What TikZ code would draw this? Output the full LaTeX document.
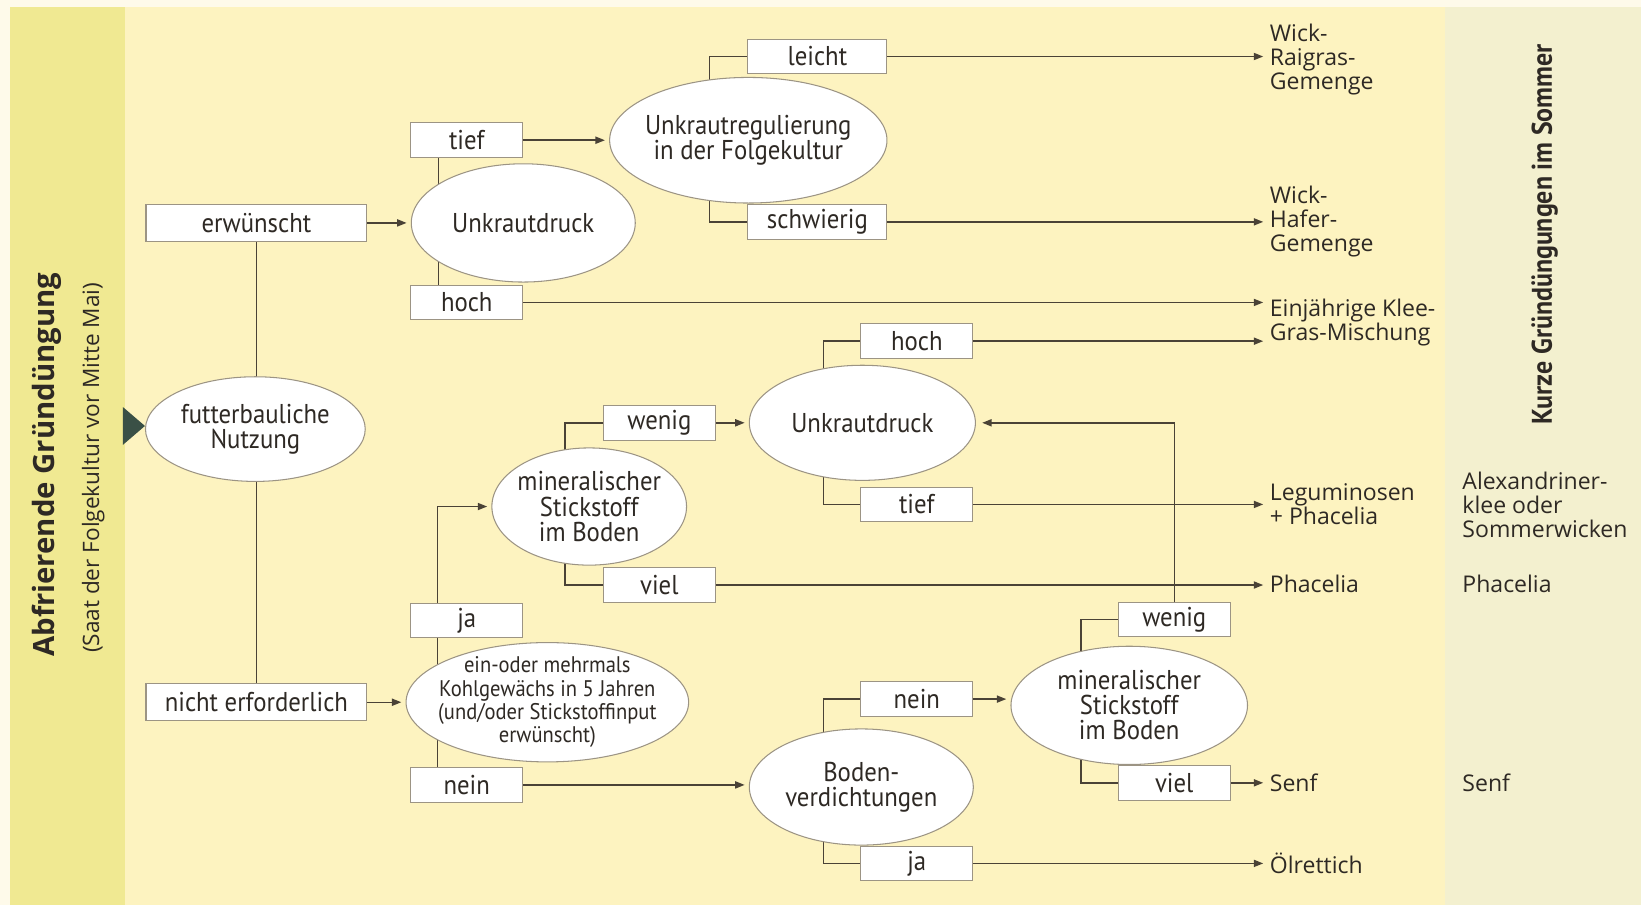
\documentclass[tikz,border=0pt]{standalone}
\usepackage{fontspec}
\setmainfont[FakeStretch=0.91]{PT Sans}
\newfontfamily\labfont{Open Sans}
\usetikzlibrary{shapes.geometric,arrows.meta,backgrounds}

\definecolor{ink}{HTML}{2E2924}
\definecolor{edge}{HTML}{4A4236}
\definecolor{rim}{HTML}{9C9484}
\definecolor{bgmain}{HTML}{FDF3C0}
\definecolor{bgleft}{HTML}{F0E992}
\definecolor{bgright}{HTML}{F3F0CF}
\definecolor{bgtop}{HTML}{FEFAEA}
\definecolor{pointer}{HTML}{3A5046}

\begin{document}
\begin{tikzpicture}[x=0.5pt,y=-0.5pt,
		font=\fontsize{13}{12}\selectfont, text=ink,
		box/.style={draw=rim,fill=white,line width=0.5pt,minimum width=53.5pt,minimum height=16.5pt,inner sep=0pt},
		widebox/.style={box,minimum width=105.5pt,minimum height=17.5pt},
		oval/.style={ellipse,draw=rim,fill=white,line width=0.5pt,inner sep=0pt,align=center},
		res/.style={anchor=west,align=left,inner xsep=3pt,inner ysep=0pt,font=\labfont\fontsize{11}{11.5}\selectfont},
		link/.style={draw=edge,line width=0.7pt},
		arr/.style={link,-{Triangle[length=4.5pt,width=3.4pt]}}]
	\useasboundingbox (0,0) rectangle (1568,865);
	
	% background
	\begin{scope}[on background layer]
		\fill[bgtop] (0,0) rectangle (1568,865);
		\fill[bgleft] (9.5,6.5) rectangle (119,865);
		\fill[bgmain] (119,6.5) rectangle (1381,865);
		\fill[bgright] (1381,6.5) rectangle (1568,865);
	\end{scope}
	\fill[pointer] (117.5,389) -- (138.5,407) -- (117.5,425) -- cycle;
	
	\node[rotate=90,font=\labfont\bfseries\fontsize{14}{14}\selectfont] (titel) at (45,444) {Abfrierende Gründüngung};
	\node[rotate=90,font=\labfont\fontsize{10.8}{10.8}\selectfont] (untertitel) at (89,447) {(Saat der Folgekultur vor Mitte Mai)};
	\node[rotate=90,font=\bfseries\fontsize{13.6}{13.6}\selectfont] (sommer) at (1476,224) {Kurze Gründüngungen im Sommer};
	
	% left column
	\node[oval,minimum width=105pt,minimum height=50pt] (nutz) at (244,410) {futterbauliche\\Nutzung};
	\node[widebox] (erw) at (245,213) {erwünscht};
	\node[widebox] (nerf) at (245,671) {nicht erforderlich};
	
	% top
	\node[oval,minimum width=107pt,minimum height=56.5pt] (druckA) at (500,213) {Unkrautdruck};
	\node[box] (tiefA) at (446,134) {tief};
	\node[box] (hochA) at (446,289) {hoch};
	\node[oval,minimum width=132.5pt,minimum height=60pt,inner xsep=-3pt] (regul) at (715,134) {Unkrautregulierung\\in der Folgekultur};
	\node[box,minimum width=66.5pt] (leicht) at (781,54) {leicht};
	\node[box,minimum width=66.5pt] (schwer) at (781,212) {schwierig};
	
	% middle
	\node[oval,minimum width=108pt,minimum height=55pt] (druckB) at (824,404) {Unkrautdruck};
	\node[box] (hochB) at (876,326) {hoch};
	\node[box] (tiefB) at (876,482) {tief};
	\node[oval,minimum width=93pt,minimum height=56pt,inner xsep=-1.5pt] (minA) at (563,484) {mineralischer\\Stickstoff\\im Boden};
	\node[box] (wenigA) at (630,404) {wenig};
	\node[box] (vielA) at (630,559) {viel};
	
	% bottom
	\node[box] (jaA) at (446,593) {ja};
	\node[box] (neinA) at (446,750) {nein};
	\node[oval,minimum width=135pt,minimum height=57pt,inner xsep=-4.5pt,inner ysep=-2.5pt,font=\fontsize{10.8}{11.2}\selectfont] (kohl) at (523,671) {ein-oder mehrmals\\Kohlgewächs in 5 Jahren\\(und/oder Stickstoffinput\\erwünscht)};
	\node[oval,minimum width=107pt,minimum height=55.5pt] (boden) at (823,752) {Boden-\\verdichtungen};
	\node[box] (neinB) at (876,668) {nein};
	\node[box] (jaB) at (876,825) {ja};
	\node[oval,minimum width=113pt,minimum height=56.5pt] (minB) at (1079,674) {mineralischer\\Stickstoff\\im Boden};
	\node[box] (wenigB) at (1122,592) {wenig};
	\node[box] (vielB) at (1122,748) {viel};
	
	% results
	\node[res] (wrg) at (1207,57) {Wick-\\Raigras-\\Gemenge};
	\node[res] (whg) at (1207,212) {Wick-\\Hafer-\\Gemenge};
	\node[res] (kgm) at (1207,308) {Einjährige Klee-\\Gras-Mischung};
	\node[res] (lph) at (1207,482) {Leguminosen\\+ Phacelia};
	\node[res] (pha) at (1207,558) {Phacelia};
	\node[res] (senf) at (1207,748) {Senf};
	\node[res] (oel) at (1207,825) {Ölrettich};
	\node[res] (alex) at (1391,482) {Alexandriner-\\klee oder\\Sommerwicken};
	\node[res] (phaR) at (1391,558) {Phacelia};
	\node[res] (senfR) at (1391,748) {Senf};
	
	\begin{scope}[on background layer]
		\draw[link] (erw.south) -- (erw.south |- nerf.north);
		\draw[link] ([xshift=13.5pt]tiefA.south west) -- ([xshift=13.5pt]hochA.north west);
		\draw[link] (leicht.west) -| ([xshift=-18.5pt]regul.center) |- (schwer.west);
		\draw[link] (hochB.west) -| ([xshift=-18.5pt]druckB.center) |- (tiefB.west);
		\draw[link] (wenigA.west) -| ([xshift=-11.5pt]minA.center) |- (vielA.west);
		\draw[link] (neinB.west) -| ([xshift=-18pt]boden.center) |- (jaB.west);
		\draw[link] (wenigB.west) -| ([xshift=-23pt]minB.center) |- (vielB.west);
		\draw[arr] ([xshift=13pt]neinA.north west) |- ([xshift=-2pt]minA.west);
	\end{scope}
	
	\draw[arr] (erw) -- ([xshift=-2pt]druckA.west);
	\draw[arr] (tiefA.east) -- ([xshift=-2pt]tiefA.east -| regul.west);
	\draw[arr] (leicht.east) -- (leicht.east -| wrg.west);
	\draw[arr] (schwer.east) -- (schwer.east -| whg.west);
	\draw[arr] (hochA.east) -- (hochA.east -| kgm.west);
	\draw[arr] (hochB.east) -- (hochB.east -| kgm.west);
	\draw[arr] (wenigA.east) -- ([xshift=-2pt]wenigA.east -| druckB.west);
	\draw[arr] (tiefB.east) -- (tiefB.east -| lph.west);
	\draw[arr] (vielA.east) -- (vielA.east -| pha.west);
	\draw[arr] (nerf) -- ([xshift=-2pt]kohl.west);
	\draw[arr] (neinA.east) -- ([xshift=-2pt]neinA.east -| boden.west);
	\draw[arr] (neinB.east) -- ([xshift=-2pt]neinB.east -| minB.west);
	\draw[arr] (wenigB.north) |- ([xshift=3pt]druckB.east);
	\draw[arr] (vielB.east) -- (vielB.east -| senf.west);
	\draw[arr] (jaB.east) -- (jaB.east -| oel.west);
\end{tikzpicture}
\end{document}
